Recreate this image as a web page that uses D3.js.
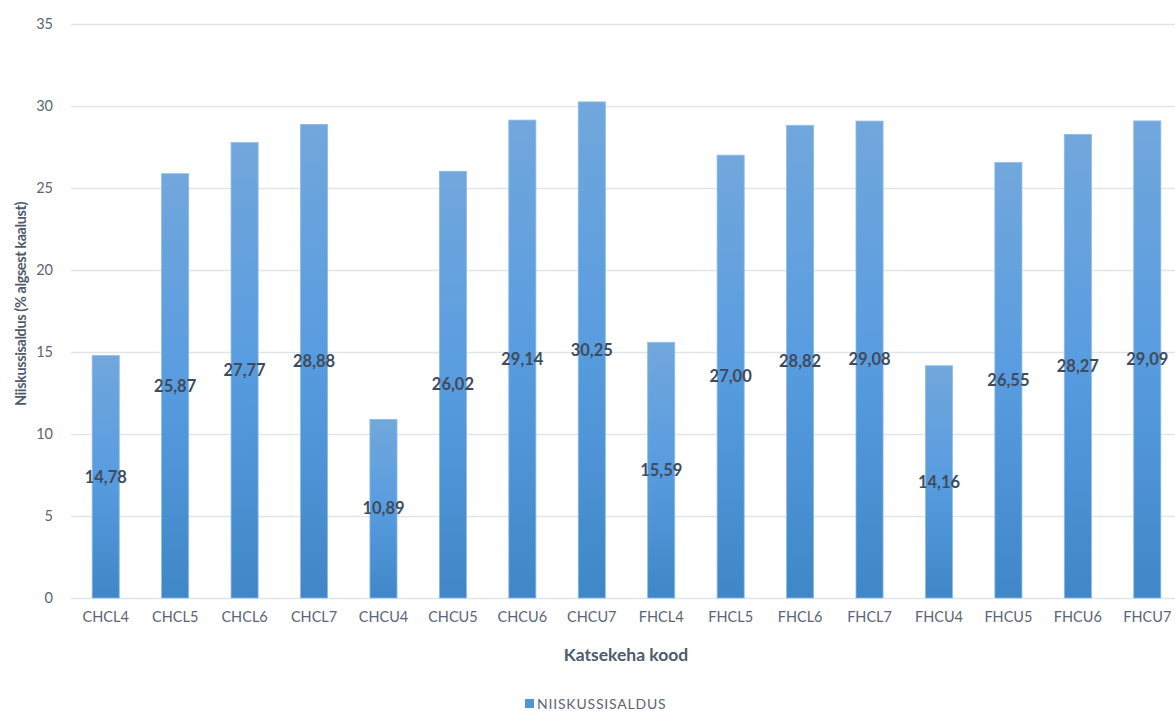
<!DOCTYPE html>
<html>
<head>
<meta charset="utf-8">
<script src="https://cdn.jsdelivr.net/npm/d3@7"></script>
<style>
  html, body { margin: 0; padding: 0; background: #ffffff; }
  svg { display: block; font-family: Lato, "Open Sans", sans-serif; }
</style>
</head>
<body>
<svg id="chart" width="1175" height="711"></svg>
<script>
// Moisture content per specimen code
const categories = ["CHCL4","CHCL5","CHCL6","CHCL7","CHCU4","CHCU5","CHCU6","CHCU7",
                    "FHCL4","FHCL5","FHCL6","FHCL7","FHCU4","FHCU5","FHCU6","FHCU7"];
const values = [14.78, 25.87, 27.77, 28.88, 10.89, 26.02, 29.14, 30.25,
                15.59, 27.00, 28.82, 29.08, 14.16, 26.55, 28.27, 29.09];
const yTicks = [0, 5, 10, 15, 20, 25, 30, 35];
const seriesName = "NIISKUSSISALDUS";
const yTitle = "Niiskussisaldus (% algsest kaalust)";
const xTitle = "Katsekeha kood";

const svg = d3.select("#chart");
const margin = { left: 71, right: -7, top: 24, bottom: 113 };
const W = 1175, H = 711;

const x = d3.scaleBand()
  .domain(categories)
  .range([margin.left, W - margin.right])
  .paddingInner(0.61)
  .paddingOuter(0.305);

const y = d3.scaleLinear()
  .domain([0, 35])
  .range([H - margin.bottom, margin.top]);

const fmt = v => d3.format(".2f")(v).replace(".", ",");

// vertical gradient used by every bar
const defs = svg.append("defs");
const grad = defs.append("linearGradient")
  .attr("id", "barGrad").attr("x1", 0).attr("y1", 0).attr("x2", 0).attr("y2", 1);
grad.append("stop").attr("offset", "0%").attr("stop-color", "#71a7dc");
grad.append("stop").attr("offset", "50%").attr("stop-color", "#589ce0");
grad.append("stop").attr("offset", "100%").attr("stop-color", "#3f87c7");

// horizontal gridlines + y tick labels
const yAxis = d3.axisLeft(y).tickValues(yTicks).tickSize(-(W - margin.left)).tickPadding(18);
const gy = svg.append("g")
  .attr("transform", `translate(${margin.left},0)`)
  .call(yAxis);
gy.select(".domain").remove();
gy.selectAll(".tick line").attr("stroke", "#e1e5ea").attr("stroke-width", 1.5);
gy.selectAll(".tick text")
  .attr("fill", "#5b6575")
  .attr("font-size", 14.5)
  .attr("font-family", "Lato, 'Open Sans', sans-serif");

// bars
svg.append("g").selectAll("rect")
  .data(values)
  .join("rect")
  .attr("x", (d, i) => x(categories[i]))
  .attr("width", x.bandwidth())
  .attr("y", d => y(d))
  .attr("height", d => y(0) - y(d))
  .attr("fill", "url(#barGrad)")
  .attr("stroke", "#8dbbe6")
  .attr("stroke-width", 0.8);

// x axis labels
const xAxis = d3.axisBottom(x).tickSize(0).tickPadding(14);
const gx = svg.append("g")
  .attr("transform", `translate(0,${y(0)})`)
  .call(xAxis);
gx.select(".domain").remove();
gx.selectAll(".tick text")
  .attr("fill", "#5b6575")
  .attr("font-size", 14.5)
  .attr("font-family", "Lato, 'Open Sans', sans-serif");

// value labels centred in each bar
svg.append("g").selectAll("text")
  .data(values)
  .join("text")
  .attr("x", (d, i) => x(categories[i]) + x.bandwidth() / 2)
  .attr("y", d => (y(d) + y(0)) / 2)
  .attr("dy", "0.35em")
  .attr("text-anchor", "middle")
  .attr("font-size", 16.5)
  .attr("font-weight", "bold")
  .attr("fill", "#404b5b")
  .text(d => fmt(d));

// axis titles
svg.append("text")
  .attr("transform", `translate(26,304) rotate(-90)`)
  .attr("text-anchor", "middle")
  .attr("font-size", 14.5)
  .attr("letter-spacing", -0.4)
  .attr("font-weight", "bold")
  .attr("fill", "#4f5a6a")
  .text(yTitle);

svg.append("text")
  .attr("x", 626)
  .attr("y", 661)
  .attr("text-anchor", "middle")
  .attr("font-size", 17.5)
  .attr("font-weight", "bold")
  .attr("fill", "#4f5a6a")
  .text(xTitle);

// legend
const lg = svg.append("g").attr("transform", "translate(525,699)");
lg.append("rect").attr("width", 9).attr("height", 9).attr("fill", "#4f95d8");
lg.append("text")
  .attr("x", 12).attr("y", 10)
  .attr("font-size", 14)
  .attr("letter-spacing", 0.8)
  .attr("fill", "#5b6575")
  .text(seriesName);
</script>
</body>
</html>
